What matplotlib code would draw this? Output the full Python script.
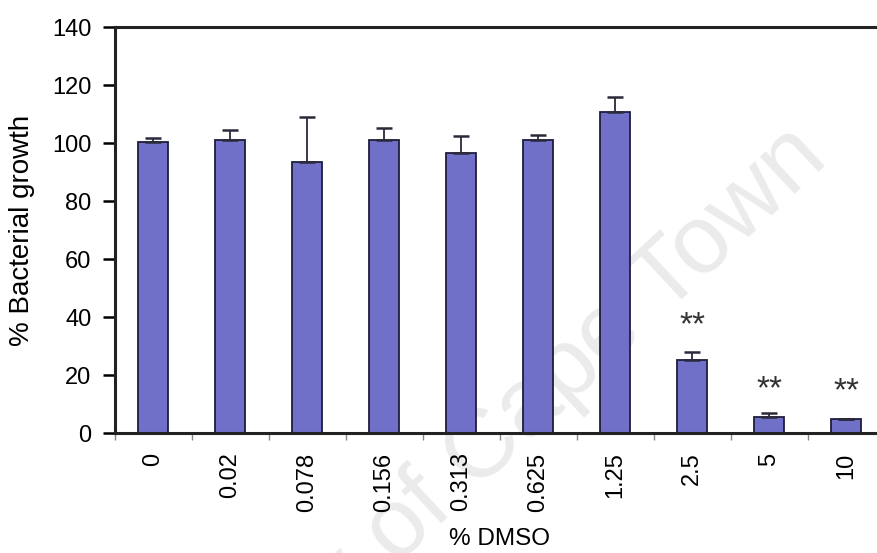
import matplotlib.pyplot as plt
import numpy as np

plt.rcParams['font.family'] = ['Liberation Sans', 'DejaVu Sans']

# % DMSO concentrations and bacterial growth (% of control)
dmso = ['0', '0.02', '0.078', '0.156', '0.313', '0.625', '1.25', '2.5', '5', '10']
growth = [100.2, 101.0, 93.4, 101.0, 96.7, 101.0, 110.8, 25.2, 5.6, 4.8]
sd = [1.6, 3.5, 15.6, 4.2, 5.7, 1.8, 5.2, 2.8, 1.2, 0.0]
signif = ['', '', '', '', '', '', '', '**', '**', '**']
star_y = [0, 0, 0, 0, 0, 0, 0, 37, 15, 14.2]

fig = plt.figure(figsize=(8.77, 5.53), dpi=100)
ax = fig.add_axes([115 / 877, 120 / 553, 769.5 / 877, 406 / 553])
ax.set_zorder(1)
ax.set_facecolor('none')

# faint background watermark
fig.text(430 / 877, 1 - 500 / 553, 'University of Cape Town', fontsize=70,
         color='#ebebeb', rotation=43, rotation_mode='anchor',
         ha='center', va='center', zorder=0)

x = np.arange(len(dmso))
ax.bar(x, growth, width=0.39, color='#7070c8', edgecolor='#1e1e3c',
       linewidth=1.3, zorder=2)
ax.errorbar(x, growth, yerr=[np.zeros(len(sd)), sd], fmt='none',
            ecolor='#2a2a3a', elinewidth=1.3, capsize=5.5, capthick=1.8, zorder=3)

for xi, s, yy in zip(x, signif, star_y):
    if s:
        ax.text(xi, yy, s, ha='center', va='center', fontsize=24, color='#333333')

ax.set_xlim(-0.5, len(dmso) - 0.5)
ax.set_ylim(0, 140)
ax.set_yticks(np.arange(0, 141, 20))
ax.set_xticks(x)
ax.set_xticklabels(dmso, rotation=90, fontsize=17)
ax.set_xticks(np.arange(-0.5, len(dmso), 1), minor=True)
ax.tick_params(axis='x', which='major', length=0, pad=14)
ax.tick_params(axis='x', which='minor', length=5, width=1, color='#888888')
ax.tick_params(axis='y', length=9, width=1.8, labelsize=17, pad=8)

for side in ['left', 'bottom', 'top', 'right']:
    ax.spines[side].set_linewidth(2.2)
    ax.spines[side].set_color('#222222')

ax.set_xlabel('% DMSO', fontsize=17.5, labelpad=12)
ax.set_ylabel('% Bacterial growth', fontsize=20, labelpad=12)

fig.savefig('out.png', dpi=100)
